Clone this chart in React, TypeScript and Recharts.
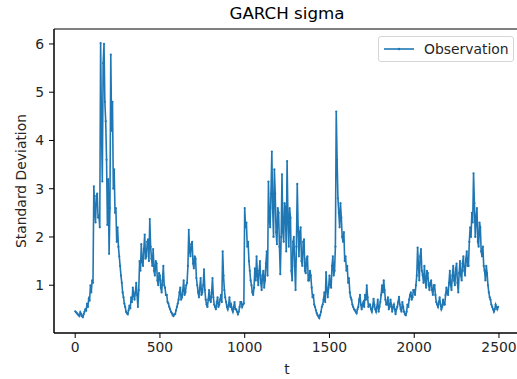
import React from 'react';
import { LineChart, Line, XAxis, YAxis, Legend, Label, ReferenceArea } from 'recharts';

const title = 'GARCH sigma';
const seriesName = 'Observation';
const xLabel = 't';
const yLabel = 'Standard Deviation';
const xTicks = [0, 500, 1000, 1500, 2000, 2500];
const yTicks = [1, 2, 3, 4, 5, 6];
const xDomain = [-125, 2624];
const yDomain = [0.01, 6.31];
const sampleStep = 5;

// sigma, one value every 5 steps of t (one row = 100 steps)
const sigma = [
  0.46, 0.44, 0.42, 0.40, 0.38, 0.36, 0.44, 0.40, 0.36, 0.34, 0.40, 0.45, 0.50, 0.48, 0.62, 0.55, 0.72, 0.68, 1.00, 0.85,
  1.10, 1.05, 3.05, 2.60, 2.30, 2.85, 2.90, 2.40, 2.45, 2.20, 6.02, 4.30, 3.15, 5.60, 6.00, 4.80, 4.40, 3.60, 2.25, 3.20,
  1.65, 2.60, 5.78, 4.20, 4.80, 3.00, 3.40, 2.50, 2.60, 1.90, 2.20, 1.80, 1.60, 1.40, 1.20, 1.05, 0.85, 0.75, 0.62, 0.55,
  0.45, 0.42, 0.40, 0.48, 0.58, 0.52, 0.75, 0.65, 0.95, 0.80, 0.70, 0.85, 1.05, 0.80, 0.55, 0.90, 1.50, 1.30, 1.85, 1.50,
  1.40, 1.75, 2.05, 1.55, 1.60, 1.90, 1.95, 1.50, 2.37, 1.80, 1.55, 1.40, 1.75, 1.30, 1.20, 1.50, 1.45, 1.10, 1.00, 1.25,
  1.20, 0.95, 0.85, 1.10, 1.40, 1.00, 0.95, 0.80, 0.80, 0.65, 0.62, 0.55, 0.50, 0.45, 0.42, 0.38, 0.36, 0.40, 0.40, 0.48,
  0.55, 0.62, 0.70, 0.85, 0.95, 0.70, 0.75, 0.90, 1.10, 0.80, 0.85, 1.00, 1.05, 1.40, 2.15, 1.70, 1.60, 1.85, 1.90, 1.45,
  1.35, 1.60, 1.55, 1.15, 1.00, 0.85, 0.75, 0.95, 1.15, 0.80, 0.85, 1.00, 1.33, 0.90, 0.70, 0.60, 0.55, 0.70, 0.90, 0.70,
  0.65, 0.85, 1.15, 0.75, 0.60, 0.55, 0.50, 0.65, 0.75, 0.55, 0.60, 0.70, 0.80, 0.65, 1.70, 1.20, 0.90, 0.75, 0.65, 0.55,
  0.50, 0.60, 0.75, 0.55, 0.60, 0.50, 0.45, 0.55, 0.65, 0.50, 0.50, 0.45, 0.40, 0.45, 0.55, 0.65, 0.65, 0.55, 0.60, 0.62,
  2.60, 2.20, 2.30, 1.80, 1.90, 1.50, 1.30, 1.10, 1.00, 0.85, 0.80, 0.95, 1.35, 1.10, 1.60, 1.20, 1.00, 1.30, 1.50, 1.05,
  0.90, 1.20, 1.30, 0.95, 1.10, 1.45, 1.70, 1.20, 3.15, 2.40, 2.20, 2.90, 3.77, 2.60, 2.00, 3.40, 2.90, 2.10, 1.85, 2.60,
  2.50, 1.80, 1.23, 2.00, 3.30, 2.10, 1.90, 2.70, 2.60, 1.70, 3.57, 2.40, 1.80, 2.60, 2.40, 1.30, 1.10, 1.90, 2.00, 1.40,
  0.90, 1.80, 3.10, 2.20, 1.60, 2.10, 2.20, 1.50, 1.40, 1.90, 1.95, 1.30, 1.25, 1.55, 1.60, 1.10, 1.10, 1.30, 1.20, 0.95,
  0.75, 0.80, 0.60, 0.55, 0.48, 0.42, 0.38, 0.35, 0.32, 0.38, 0.45, 0.55, 0.60, 0.70, 0.85, 0.65, 1.27, 0.90, 0.75, 0.95,
  1.20, 1.00, 0.95, 1.40, 1.60, 1.20, 1.30, 1.80, 4.60, 3.60, 2.80, 2.50, 2.20, 2.70, 2.40, 2.00, 1.90, 2.10, 1.50, 1.60,
  1.30, 1.40, 1.05, 1.15, 0.85, 0.75, 0.70, 0.60, 0.55, 0.50, 0.48, 0.45, 0.42, 0.50, 0.55, 0.70, 0.80, 0.60, 0.50, 0.60,
  0.65, 0.55, 0.80, 0.70, 1.00, 0.75, 0.55, 0.60, 0.60, 0.50, 0.45, 0.55, 0.72, 0.60, 0.50, 0.45, 0.55, 0.70, 0.45, 0.55,
  0.65, 0.80, 1.00, 0.85, 1.10, 0.90, 0.70, 0.60, 0.60, 0.75, 0.50, 0.55, 0.70, 0.60, 0.45, 0.55, 0.60, 0.50, 0.40, 0.50,
  0.55, 0.65, 0.76, 0.60, 0.50, 0.45, 0.65, 0.55, 0.45, 0.40, 0.38, 0.45, 0.60, 0.55, 0.70, 0.80, 0.85, 0.70, 0.75, 0.90,
  0.90, 0.80, 1.00, 1.20, 1.78, 1.40, 1.10, 1.60, 1.75, 1.30, 1.20, 1.05, 1.40, 1.10, 0.95, 1.30, 1.25, 1.00, 0.90, 1.05,
  1.10, 0.90, 0.80, 1.00, 1.00, 0.80, 0.65, 0.60, 0.55, 0.65, 0.75, 0.60, 0.50, 0.55, 0.70, 0.60, 0.60, 0.80, 0.95, 0.85,
  0.80, 1.05, 1.30, 1.00, 0.90, 1.20, 1.40, 1.10, 1.00, 1.35, 1.45, 1.05, 0.85, 1.25, 1.50, 1.20, 1.10, 1.45, 1.60, 1.30,
  1.20, 1.55, 1.70, 1.40, 1.40, 1.90, 2.20, 2.00, 2.50, 2.30, 3.32, 2.70, 2.00, 2.40, 2.60, 1.90, 1.80, 2.30, 2.20, 1.70,
  1.60, 1.80, 1.40, 1.30, 1.10, 1.40, 1.25, 1.00, 0.85, 0.75, 0.70, 0.60, 0.55, 0.50, 0.45, 0.50, 0.60, 0.55, 0.50, 0.55,
];

const data = sigma.map((v, i) => ({ t: i * sampleStep, sigma: v }));

const BLUE = '#1f77b4';
const FONT = '"DejaVu Sans", sans-serif';
const textStyle = { fill: '#262626', fontSize: 13.9, fontFamily: FONT };

const LegendBox = () => (
  <div
    style={{
      width: 136,
      height: 26,
      boxSizing: 'border-box',
      border: '1px solid #d6d6d6',
      borderRadius: 3,
      background: 'rgba(255,255,255,0.8)',
      display: 'flex',
      alignItems: 'center',
      fontFamily: FONT,
      fontSize: 13.9,
      color: '#262626',
      whiteSpace: 'nowrap',
    }}
  >
    <svg width={30} height={10} style={{ marginLeft: 5, marginRight: 10 }}>
      <line x1={0} y1={5} x2={30} y2={5} stroke={BLUE} strokeWidth={1.6} />
      <circle cx={15} cy={5} r={1.2} fill={BLUE} />
    </svg>
    <span>{seriesName}</span>
  </div>
);

export default function App() {
  return (
    <div style={{ position: 'absolute', left: 0, top: 0, width: 517, height: 379, overflow: 'hidden', background: '#fff' }}>
      <div
        style={{
          position: 'absolute',
          left: 54,
          width: 466,
          top: 3,
          textAlign: 'center',
          fontFamily: FONT,
          fontSize: 16.7,
          color: '#000',
        }}
      >
        {title}
      </div>
      <LineChart width={525} height={379} data={data} margin={{ top: 29, right: 5, bottom: 0, left: 0 }}>
        <XAxis
          dataKey="t"
          type="number"
          domain={xDomain}
          ticks={xTicks}
          height={46}
          tickSize={5}
          tickMargin={4}
          stroke="#000"
          tick={textStyle}
        >
          <Label value={xLabel} position="insideBottom" offset={5} style={textStyle} />
        </XAxis>
        <YAxis
          type="number"
          domain={yDomain}
          ticks={yTicks}
          width={54}
          tickSize={5}
          tickMargin={5}
          stroke="#000"
          tick={textStyle}
        >
          <Label value={yLabel} angle={-90} position="center" dx={-6} style={textStyle} />
        </YAxis>
        <ReferenceArea
          x1={xDomain[0]}
          x2={xDomain[1]}
          y1={yDomain[0]}
          y2={yDomain[1]}
          fill="none"
          stroke="#000"
          strokeWidth={1}
        />
        <Legend
          content={<LegendBox />}
          layout="horizontal"
          verticalAlign="middle"
          align="center"
          wrapperStyle={{ left: 378, top: 36, width: 136, height: 26 }}
        />
        <Line
          dataKey="sigma"
          name={seriesName}
          stroke={BLUE}
          strokeWidth={1.6}
          dot={{ r: 1.1, fill: BLUE, stroke: 'none' }}
          isAnimationActive={false}
        />
      </LineChart>
    </div>
  );
}
